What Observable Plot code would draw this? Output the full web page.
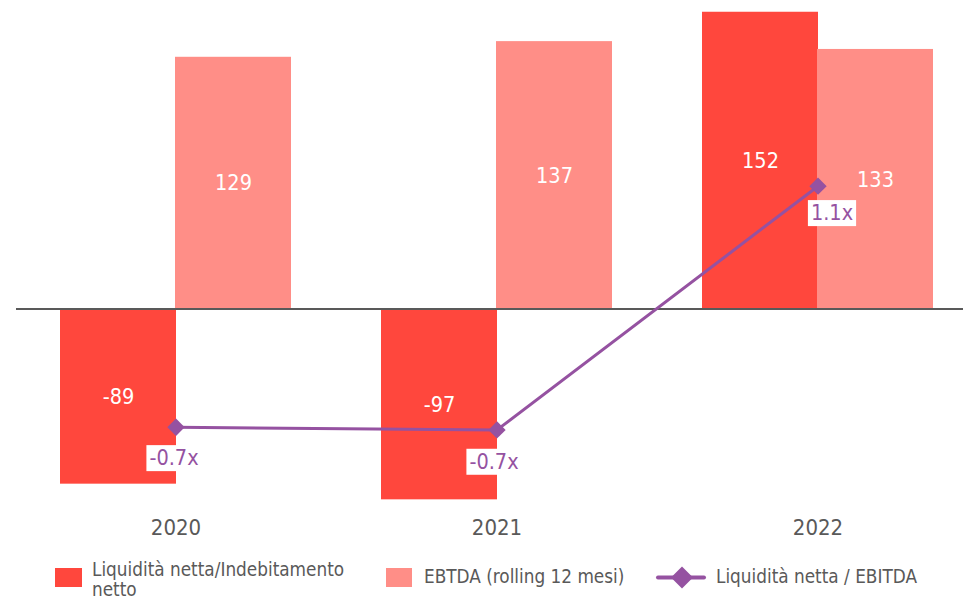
<!DOCTYPE html>
<html>
<head>
<meta charset="utf-8">
<script src="https://cdn.jsdelivr.net/npm/d3@7"></script>
<script src="https://cdn.jsdelivr.net/npm/@observablehq/plot@0.6"></script>
<style>
  body { margin: 0; background: #fff; }
  #wrap { position: relative; width: 963px; height: 599px; font-family: "DejaVu Sans Condensed", "DejaVu Sans", sans-serif; }
  .lg { position: absolute; color: #595959; font-size: 18.8px; line-height: 20px; white-space: nowrap; }
  .sw { position: absolute; }
</style>
</head>
<body>
<div id="wrap"></div>
<script>
// ---- data ----
const years = ["2020", "2021", "2022"];
const netCash = [-89, -97, 152];          // Liquidità netta/Indebitamento netto
const ebitda = [129, 137, 133];           // EBTDA (rolling 12 mesi)
const ratio = [-0.69, -0.71, 1.14];       // Liquidità netta / EBITDA
const ratioLabels = ["-0.7x", "-0.7x", "1.1x"];
const seriesNames = ["Liquidità netta/Indebitamento netto", "EBTDA (rolling 12 mesi)", "Liquidità netta / EBITDA"];

const colors = { net: "#FF473D", ebitda: "#FF8E87", ratio: "#9552A1" };

const yDomain = [-105, 158];
const y2Domain = [-1.36, 2.55];
const toPrimary = d3.scaleLinear(y2Domain, yDomain);

const rows = years.map((y, i) => ({ year: y, net: netCash[i], ebitda: ebitda[i], ratio: ratio[i], r: toPrimary(ratio[i]), rl: ratioLabels[i] }));

const half = 115;
const font = "DejaVu Sans Condensed, DejaVu Sans, sans-serif";

const chart = Plot.plot({
  width: 963,
  height: 540,
  marginTop: 0,
  marginBottom: 25,
  marginLeft: 16,
  marginRight: 0,
  style: { fontFamily: font, background: "transparent" },
  x: { type: "band", domain: years, paddingInner: 0.28, paddingOuter: 0.115, align: 0.6 },
  y: { domain: yDomain, axis: null },
  marks: [
    Plot.barY(rows, { x: "year", y: "net", fill: colors.net, insetRight: half, insetLeft: 0 }),
    Plot.barY(rows, { x: "year", y: "ebitda", fill: colors.ebitda, insetLeft: half, insetRight: 0 }),
    Plot.ruleY([0], { stroke: "#595959", strokeWidth: 2, dy: -1 }),
    Plot.text(rows, { x: "year", y: d => d.net / 2, text: d => String(d.net), dx: -half / 2, fill: "white", fontSize: 21.5 }),
    Plot.text(rows, { x: "year", y: d => d.ebitda / 2, text: d => String(d.ebitda), dx: half / 2, fill: "white", fontSize: 21.5 }),
    Plot.line(rows, { x: "year", y: "r", stroke: colors.ratio, strokeWidth: 3 }),
    Plot.dot(rows, { x: "year", y: "r", symbol: "diamond2", r: 7.8, fill: colors.ratio, stroke: "none" }),
    Plot.text(rows, { x: "year", y: "r", text: "rl", fill: colors.ratio, fontSize: 21.5, dy: 31, className: "rlab" }),
    Plot.axisX({ tickSize: 0, tickPadding: 4, fontSize: 22, color: "#595959", label: null })
  ]
});

const wrap = document.getElementById("wrap");
wrap.appendChild(chart);

// white boxes behind ratio labels; shift labels slightly as in the reference
const shifts = [[-2, 0], [-3, 1], [14, -4]];
d3.select(chart).selectAll("g.rlab text").each(function (d, i) {
  const [sx, sy] = shifts[i] || [0, 0];
  const t = (this.getAttribute("transform") || "") + ` translate(${sx},${sy})`;
  this.setAttribute("transform", t);
  const b = this.getBBox();
  const rect = document.createElementNS("http://www.w3.org/2000/svg", "rect");
  rect.setAttribute("x", b.x - 3);
  rect.setAttribute("y", b.y);
  rect.setAttribute("width", b.width + 6);
  rect.setAttribute("height", b.height + 1);
  rect.setAttribute("fill", "white");
  rect.setAttribute("transform", t);
  this.parentNode.insertBefore(rect, this);
});

// legend
const legendHTML = `
  <div class="sw" style="left:55px;top:568px;width:27px;height:19px;background:${colors.net}"></div>
  <div class="lg" style="left:92px;top:560px;">Liquidità netta/Indebitamento<br>netto</div>
  <div class="sw" style="left:386px;top:568px;width:26px;height:19px;background:${colors.ebitda}"></div>
  <div class="lg" style="left:424px;top:567px;">${seriesNames[1]}</div>
  <svg class="sw" style="left:655px;top:565px" width="52" height="26">
    <line x1="3" y1="12.5" x2="49" y2="12.5" stroke="${colors.ratio}" stroke-width="4" stroke-linecap="round"/>
    <path d="M27,1.5 L38,12.5 L27,23.5 L16,12.5 Z" fill="${colors.ratio}"/>
  </svg>
  <div class="lg" style="left:716px;top:567px;">${seriesNames[2]}</div>
`;
const lg = document.createElement("div");
lg.innerHTML = legendHTML;
while (lg.firstChild) wrap.appendChild(lg.firstChild);
</script>
</body>
</html>
